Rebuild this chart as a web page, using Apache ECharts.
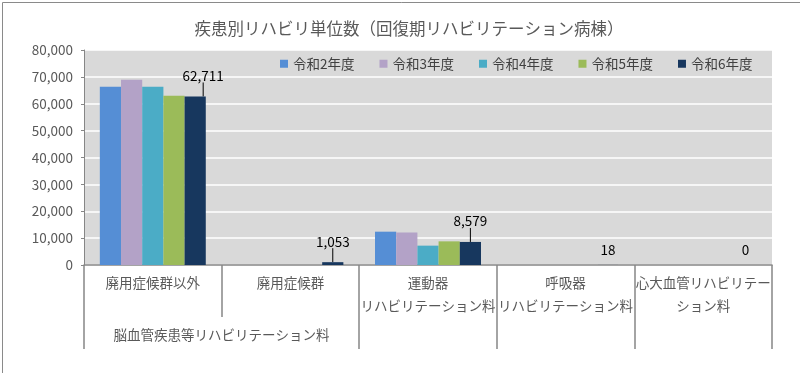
<!DOCTYPE html>
<html><head><meta charset="utf-8">
<script src="https://cdn.jsdelivr.net/npm/echarts@6/dist/echarts.min.js"></script>
<style>html,body{margin:0;padding:0;background:#fff}#c{width:800px;height:373px}</style>
</head><body><div id="c"></div>
<script>
const chartTitle = '疾患別リハビリ単位数（回復期リハビリテーション病棟）';
const categories = ['廃用症候群以外', '廃用症候群', '運動器\nリハビリテーション料', '呼吸器\nリハビリテーション料', '心大血管リハビリテー\nション料'];
const groupLabel = '脳血管疾患等リハビリテーション料';
const seriesNames = ['令和2年度', '令和3年度', '令和4年度', '令和5年度', '令和6年度'];
const r2 = [66300, 0, 12400, 0, 0];
const r3 = [68900, 0, 12100, 0, 0];
const r4 = [66300, 0, 7200, 0, 0];
const r5 = [63000, 0, 8800, 0, 0];
const r6 = [62711, 1053, 8579, 18, 0];
const yMin = 0, yMax = 80000, yStep = 10000;

// styling
const colors = ['#558ED5', '#B3A2C7', '#4BACC6', '#9BBB59', '#17375E'];
const labelShift = [[8, -9], [0, -9], [0, -9], [0, -3], [0, -3]];
const labelLineOn = [true, true, true, false, false];
const FONT = '"Noto Sans CJK JP", "Noto Sans", sans-serif';
const gridL = 84, gridR = 28, gridT = 50, gridB = 108;
const W = 800;
const band = (W - gridL - gridR) / categories.length;

const allValues = [r2, r3, r4, r5, r6];
const series = allValues.map((vals, si) => {
  const s = {
    name: seriesNames[si], type: 'bar', xAxisIndex: 0,
    barGap: '0%', barCategoryGap: '23%',
    itemStyle: { color: colors[si] },
    data: vals.slice()
  };
  if (si === 4) {
    s.data = vals.map((v, i) => ({ value: v, labelLine: { show: labelLineOn[i] } }));
    s.label = {
      show: true, position: 'top', distance: 5,
      fontFamily: FONT, fontSize: 13.5, color: '#000',
      formatter: p => p.value.toLocaleString('en-US')
    };
    s.labelLine = { show: true, lineStyle: { color: '#000', width: 1 } };
    s.labelLayout = p => ({ dx: labelShift[p.dataIndex][0], dy: labelShift[p.dataIndex][1] });
  }
  return s;
});

const chart = echarts.init(document.getElementById('c'), null, { renderer: 'canvas' });
chart.setOption({
  animation: false,
  textStyle: { fontFamily: FONT },
  title: {
    text: chartTitle, left: 404, top: 15, textAlign: 'center',
    textStyle: { fontFamily: FONT, fontSize: 16.5, fontWeight: 'normal', color: '#595959' }
  },
  graphic: [{
    type: 'rect', left: 0, top: 0, z: -10,
    shape: { x: 0.5, y: 0.5, width: 799, height: 372 },
    style: { fill: 'none', stroke: '#8a8a8a', lineWidth: 1 }
  }],
  legend: {
    data: seriesNames, left: 280, top: 57, padding: 0, itemWidth: 8, itemHeight: 8, itemGap: 25,
    icon: 'rect',
    textStyle: { fontFamily: FONT, fontSize: 13.5, color: '#404040' }
  },
  grid: {
    left: gridL, right: gridR, top: gridT, bottom: gridB,
    show: true, backgroundColor: '#d9d9d9', borderWidth: 0
  },
  xAxis: [{
    type: 'category', data: categories, position: 'bottom',
    axisLine: { show: true, lineStyle: { color: '#868686', width: 1.5 } },
    axisTick: { show: true, length: 52, lineStyle: { color: '#868686', width: 1.5 } },
    axisLabel: { interval: 0, margin: 6, fontFamily: FONT, fontSize: 13.5, lineHeight: 23, color: '#595959' }
  }, {
    type: 'category', data: categories, position: 'bottom', gridIndex: 0,
    axisLine: { show: false },
    axisTick: { show: true, length: 84, interval: (i) => i !== 1, lineStyle: { color: '#868686', width: 1.5 } },
    axisLabel: {
      interval: 0, margin: 63, fontFamily: FONT, fontSize: 13.5, color: '#595959',
      padding: [0, 0, 0, band],
      formatter: (v, i) => i === 0 ? groupLabel : ''
    }
  }],
  yAxis: {
    type: 'value', min: yMin, max: yMax, interval: yStep,
    axisLine: { show: true, lineStyle: { color: '#868686', width: 1 } },
    axisTick: { show: true, length: 3, lineStyle: { color: '#868686' } },
    axisLabel: { margin: 11, fontFamily: FONT, fontSize: 13.5, color: '#595959',
      formatter: v => v.toLocaleString('en-US') },
    splitLine: { show: true, lineStyle: { color: '#ffffff', width: 1.5 } }
  },
  series: series
});
</script></body></html>
